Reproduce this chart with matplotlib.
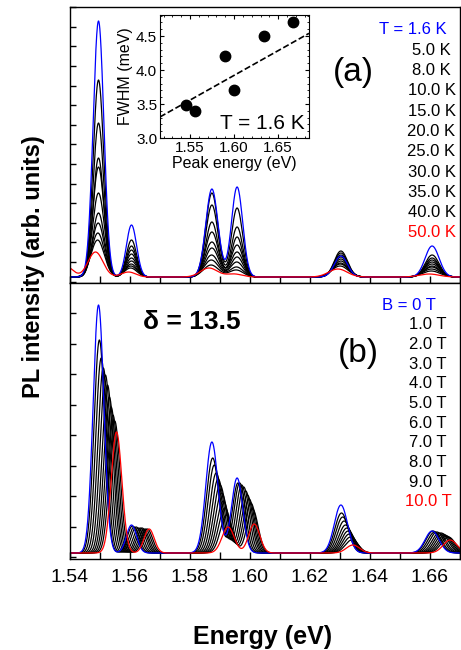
"""
plot.py
-------
PL spectra of a dot ensemble: (a) temperature series, (b) magnetic-field series,
with an inset of FWHM vs peak energy.
"""
import matplotlib
matplotlib.use("Agg")
import matplotlib.pyplot as plt
import numpy as np
from matplotlib.ticker import MultipleLocator, FormatStrFormatter

plt.rcParams["font.family"] = ["Liberation Sans", "DejaVu Sans"]

# ---- data ----
# peak lines (eV) and their apparent line widths in the spectra (meV)
PEAK_E = [1.5495, 1.5605, 1.5873, 1.5957, 1.6303, 1.6607]
SPEC_FWHM = [4.2, 4.0, 4.8, 4.4, 5.2, 5.5]

# (a) temperature series
TEMPS = ["T = 1.6 K", "5.0 K", "8.0 K", "10.0 K", "15.0 K", "20.0 K",
         "25.0 K", "30.0 K", "35.0 K", "40.0 K", "50.0 K"]
A_1550 = [256, 197, 154, 119, 110, 84, 64, 54, 44, 37, 25]
A_1560 = [52, 37, 31, 27, 23, 19, 16, 13, 11, 9, 5]
A_1587 = [88, 84, 72, 55, 45, 35, 29, 22, 17, 12, 9]
A_1596 = [90, 69, 50, 40, 32, 25, 20, 15, 10, 7, 3]
A_1630 = [21, 26, 24, 22, 20, 18, 16, 14, 13, 11, 8]
A_1661 = [31, 22, 19, 17, 15, 13, 11, 10, 8, 6, 3]
T_SHIFT_MEV = [0, 0, 0, 0, 0, 0, 0, -0.1, -0.2, -0.3, -1.0]
T_BROAD = [1.0, 1.0, 1.0, 1.0, 1.05, 1.1, 1.1, 1.15, 1.2, 1.25, 1.4]
RED_TAIL = (1.539, 5.0, 10)   # low-energy background of the 50 K trace

# (b) field series
FIELDS = ["B = 0 T", "1.0 T", "2.0 T", "3.0 T", "4.0 T", "5.0 T",
          "6.0 T", "7.0 T", "8.0 T", "9.0 T", "10.0 T"]
B_1550 = [248, 213, 195, 185, 178, 168, 156, 146, 138, 132, 121]
B_1560 = [28, 27, 26, 26, 25, 25, 25, 24, 24, 24, 24]
B_1587 = [111, 95, 88, 80, 74, 68, 60, 52, 45, 38, 26]
B_1596 = [75, 70, 70, 68, 66, 62, 58, 54, 50, 44, 29]
B_1630 = [48, 40, 36, 32, 28, 25, 22, 19, 16, 13, 8]
B_1661 = [22, 22, 21, 21, 20, 20, 19, 18, 17, 16, 13]
B_SHIFT_MEV = [0, 0.3, 0.9, 1.6, 2.3, 3.0, 3.6, 4.2, 4.8, 5.4, 6.0]
LINE_SHIFT_SCALE = [1.0, 0.98, 0.9, 0.95, 0.67, 1.0]

# inset
INSET_E = [1.545, 1.556, 1.5895, 1.600, 1.634, 1.667]
INSET_FWHM = [3.49, 3.39, 4.20, 3.70, 4.50, 4.71]
FIT_E = [1.516, 1.685]
FIT_FWHM = [3.31, 4.54]

E = np.linspace(1.535, 1.675, 3000)


def gauss(x, c, fwhm_mev, amp):
    s = fwhm_mev * 1e-3 / 2.3548
    return amp * np.exp(-0.5 * ((x - c) / s) ** 2)


def curve_color(i, n):
    if i == 0:
        return "#0000ff"
    if i == n - 1:
        return "#ff0000"
    return "black"


fig = plt.figure(figsize=(4.61, 6.5), dpi=100)
W, H = 461, 650
left, right = 70 / W, 460 / W
ax_a = fig.add_axes([left, 1 - 283 / H, right - left, 276 / H])
ax_b = fig.add_axes([left, 1 - 559 / H, right - left, 276 / H])

# ---- (a) ----
amps_a = list(zip(A_1550, A_1560, A_1587, A_1596, A_1630, A_1661))
n = len(TEMPS)
order = list(range(1, n - 1)) + [0, n - 1]
for i in order:
    y = np.zeros_like(E)
    for c, fw, amp in zip(PEAK_E, SPEC_FWHM, amps_a[i]):
        y += gauss(E, c + T_SHIFT_MEV[i] * 1e-3, fw * T_BROAD[i], amp)
    if i == n - 1:
        y += gauss(E, *RED_TAIL)
    ax_a.plot(E, y, color=curve_color(i, n), lw=0.9)

# ---- (b) ----
amps_b = list(zip(B_1550, B_1560, B_1587, B_1596, B_1630, B_1661))
for i in order:
    y = np.zeros_like(E)
    for c, fw, amp, sc in zip(PEAK_E, SPEC_FWHM, amps_b[i], LINE_SHIFT_SCALE):
        y += gauss(E, c + B_SHIFT_MEV[i] * sc * 1e-3, fw, amp)
    ax_b.plot(E, y, color=curve_color(i, n), lw=0.9)

for ax, step, start in [(ax_a, 19.6, -4.6), (ax_b, 30.5, -4.0)]:
    ax.set_xlim(1.54, 1.67)
    ax.set_ylim(-6, 270)
    ax.set_yticks(np.arange(start, 270, step))
    ax.tick_params(axis="y", direction="in", length=4, width=1, labelleft=False)
    ax.xaxis.set_major_locator(MultipleLocator(0.02))
    ax.xaxis.set_minor_locator(MultipleLocator(0.01))
    ax.tick_params(axis="x", which="both", direction="in", length=5, width=1,
                   labelsize=14, pad=7)
    for sp in ax.spines.values():
        sp.set_linewidth(1.0)
ax_a.tick_params(axis="x", labelbottom=False)
ax_b.set_xticks([1.54, 1.56, 1.58, 1.60, 1.62, 1.64, 1.66])
ax_b.set_xticklabels(["1.54", "1.56", "1.58", "1.60", "1.62", "1.64", "1.66"])

# legends as text columns
for i, lab in enumerate(TEMPS):
    x = 413 if i == 0 else 431.5
    ax_a.text(x / W, 1 - (30 + 20.3 * i) / H, lab, transform=fig.transFigure,
              ha="center", va="center", fontsize=12, color=curve_color(i, n))
for i, lab in enumerate(FIELDS):
    x = 409 if i == 0 else 428
    ax_b.text(x / W, 1 - (305 + 19.7 * i) / H, lab, transform=fig.transFigure,
              ha="center", va="center", fontsize=12, color=curve_color(i, n))

fig.text(353 / W, 1 - 73 / H, "(a)", ha="center", va="center", fontsize=24)
fig.text(358 / W, 1 - 353 / H, "(b)", ha="center", va="center", fontsize=24)
fig.text(192 / W, 1 - 322 / H, "δ = 13.5", ha="center", va="center",
         fontsize=19, fontweight="bold")

fig.text(34 / W, 1 - 267 / H, "PL intensity (arb. units)", rotation=90,
         ha="center", va="center", fontsize=17, fontweight="bold")
fig.text(263 / W, 1 - 637 / H, "Energy (eV)", ha="center", va="center",
         fontsize=18, fontweight="bold")

# ---- inset ----
ax_in = fig.add_axes([160 / W, 1 - 138 / H, 149 / W, 123 / H])
ax_in.plot(FIT_E, FIT_FWHM, color="black", ls="--", lw=1.2)
ax_in.plot(INSET_E, INSET_FWHM, "o", color="black", ms=7.5)
ax_in.set_xlim(1.516, 1.685)
ax_in.set_ylim(3.0, 4.81)
ax_in.xaxis.set_major_locator(MultipleLocator(0.05))
ax_in.xaxis.set_minor_locator(MultipleLocator(0.01))
ax_in.yaxis.set_major_locator(MultipleLocator(0.5))
ax_in.yaxis.set_minor_locator(MultipleLocator(0.1))
ax_in.yaxis.set_major_formatter(FormatStrFormatter("%.1f"))
ax_in.tick_params(which="both", direction="in", top=True, right=True,
                  labelsize=11, pad=2)
ax_in.tick_params(which="major", length=3)
ax_in.tick_params(which="minor", length=1.5)
ax_in.set_xlabel("Peak energy (eV)", fontsize=11.5, labelpad=1)
ax_in.set_ylabel("FWHM (meV)", fontsize=11.5, labelpad=2)
ax_in.text(0.97, 0.12, "T = 1.6 K", transform=ax_in.transAxes, ha="right",
           va="center", fontsize=15)

fig.savefig("out.png", dpi=100)
